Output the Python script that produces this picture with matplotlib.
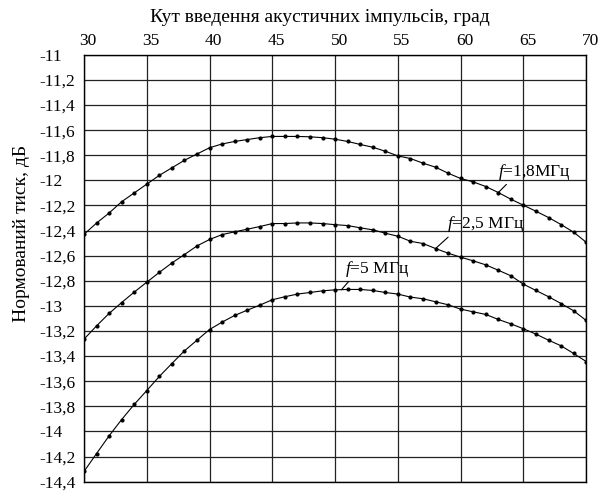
import numpy as np
import matplotlib
matplotlib.use('Agg')
import matplotlib.pyplot as plt
import matplotlib.transforms as mtransforms

plt.rcParams['font.family'] = ['Liberation Serif', 'DejaVu Serif']
plt.rcParams['mathtext.fontset'] = 'custom'
plt.rcParams['mathtext.rm'] = 'Liberation Serif'
plt.rcParams['mathtext.it'] = 'Liberation Serif:italic'

# angle of incidence, degrees (every 1 degree)
angles = np.arange(30, 71)

# normalized pressure, dB
p_18 = [-12.43, -12.34, -12.26, -12.17, -12.10, -12.03, -11.96, -11.90, -11.84, -11.79,
        -11.74, -11.71, -11.69, -11.675, -11.66, -11.65, -11.65, -11.65, -11.653, -11.66,
        -11.672, -11.69, -11.714, -11.736, -11.768, -11.805, -11.826, -11.863, -11.895, -11.943,
        -11.985, -12.012, -12.049, -12.097, -12.15, -12.198, -12.246, -12.296, -12.352, -12.413,
        -12.493]
p_25 = [-13.265, -13.159, -13.06, -12.973, -12.89, -12.811, -12.733, -12.658, -12.591, -12.522,
        -12.471, -12.432, -12.41, -12.389, -12.368, -12.344, -12.344, -12.339, -12.339, -12.344,
        -12.353, -12.36, -12.378, -12.394, -12.421, -12.445, -12.485, -12.503, -12.543, -12.58,
        -12.612, -12.641, -12.673, -12.716, -12.76, -12.827, -12.877, -12.927, -12.981, -13.039,
        -13.116]
p_5 = [-14.319, -14.176, -14.035, -13.905, -13.785, -13.674, -13.562, -13.459, -13.358, -13.273,
       -13.188, -13.129, -13.076, -13.034, -12.994, -12.951, -12.927, -12.906, -12.893, -12.88,
       -12.872, -12.869, -12.869, -12.877, -12.893, -12.906, -12.93, -12.943, -12.967, -12.991,
       -13.026, -13.047, -13.068, -13.108, -13.143, -13.182, -13.225, -13.273, -13.318, -13.379,
       -13.443]

x_ticks = np.arange(30, 71, 5)
y_ticks = np.round(np.arange(-11, -14.41, -0.2), 1)
y_labels = [('%g' % v).replace('.', ',') for v in y_ticks]

fig = plt.figure(figsize=(6, 4.94), dpi=100)
ax = fig.add_axes([0.14, 0.025, 0.837, 0.864])

for p in (p_18, p_25, p_5):
    ax.plot(angles, p, color='black', lw=0.8, marker='o', ms=2.0)

ax.set_xlim(30, 70)
ax.set_ylim(-14.4, -11)
ax.set_xticks(x_ticks)
ax.set_yticks(y_ticks)
ax.set_yticklabels(y_labels, ha='left')
ax.xaxis.tick_top()
ax.tick_params(axis='x', length=0, pad=4, labelsize=12.5)
ax.tick_params(axis='y', length=0, pad=32, labelsize=12.5)
shift = mtransforms.ScaledTranslation(4 / 100, 0, fig.dpi_scale_trans)
for lbl in ax.get_xticklabels():
    lbl.set_transform(lbl.get_transform() + shift)
ax.grid(True, color='#222222', lw=0.9)
for s in ax.spines.values():
    s.set_linewidth(1.0)

fig.text(320 / 600, 1 - 17 / 494, 'Кут введення акустичних імпульсів, град',
         ha='center', va='center', fontsize=14)
fig.text(22 / 600, 1 - 233 / 494, 'Нормований тиск, дБ',
         ha='center', va='center', rotation=90, fontsize=14)

arrow = dict(arrowstyle='-', lw=0.8, color='black', shrinkA=0, shrinkB=0)
ax.annotate(r'$f$=1,8МГц', xy=(angles[33], p_18[33]), xytext=(63.0, -12.01),
            ha='left', va='bottom', fontsize=12.5,
            arrowprops=dict(arrow, relpos=(0.19, 0.15)))
ax.annotate(r'$f$=2,5 МГц', xy=(angles[28], p_25[28]), xytext=(58.9, -12.43),
            ha='left', va='bottom', fontsize=12.5,
            arrowprops=dict(arrow, relpos=(0.1, 0.15)))
ax.annotate(r'$f$=5 МГц', xy=(angles[20] + 0.5, p_5[20]), xytext=(50.8, -12.785),
            ha='left', va='bottom', fontsize=12.5,
            arrowprops=dict(arrow, relpos=(0.13, 0.15)))

fig.savefig('out.png', dpi=100)
